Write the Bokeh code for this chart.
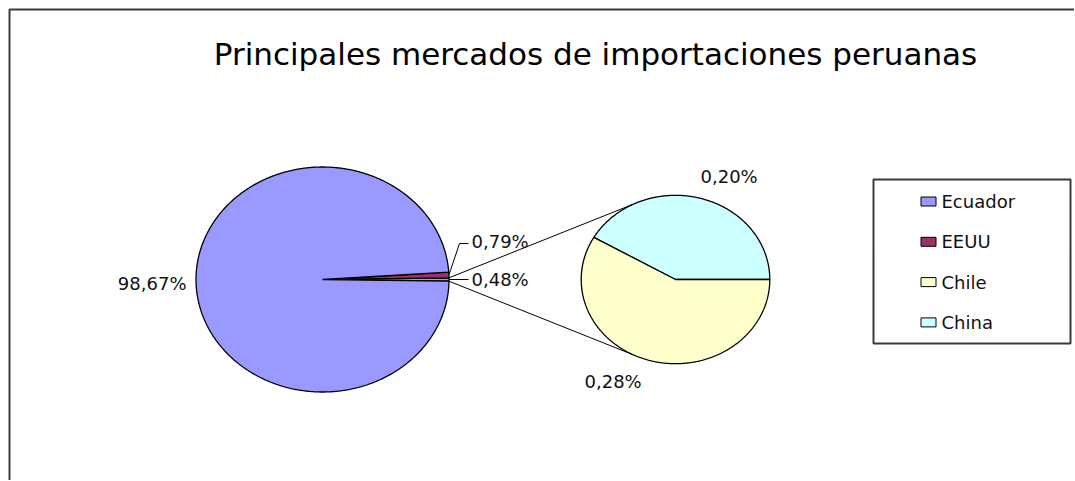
import numpy as np
from bokeh.plotting import figure
from bokeh.models import Range1d
from bokeh.core.properties import value
from bokeh.embed import file_html
from bokeh.resources import INLINE

# ---- data ----
title = "Principales mercados de importaciones peruanas"
categories = ["Ecuador", "EEUU", "Chile", "China"]
shares = [98.67, 0.79, 0.28, 0.20]
colors = ["#9999FF", "#993366", "#FFFFCC", "#CCFFFF"]
main_cats = ["Ecuador", "EEUU"]      # shown in the first pie
split_cats = ["Chile", "China"]      # grouped into "other" and shown in the second pie

W, H = 1074, 480
FONT = value("DejaVu Sans")

p = figure(width=W, height=H, output_backend="svg", toolbar_location=None,
           x_range=Range1d(0, W), y_range=Range1d(H, 0),
           min_border=0, outline_line_color=None)
p.axis.visible = False
p.grid.visible = False
p.background_fill_color = "white"
p.border_fill_color = "white"


def fmt(v):
    return f"{v:.2f}%".replace(".", ",")


def wedge_pts(cx, cy, rx, ry, a0, a1):
    n = max(4, int(abs(a1 - a0) * 2))
    t = np.radians(np.linspace(a0, a1, n))
    xs = np.concatenate([[cx], cx + rx * np.cos(t), [cx]])
    ys = np.concatenate([[cy], cy - ry * np.sin(t), [cy]])
    return list(xs), list(ys)


def pt(cx, cy, rx, ry, a):
    r = np.radians(a)
    return cx + rx * np.cos(r), cy - ry * np.sin(r)


val = dict(zip(categories, shares))
col = dict(zip(categories, colors))

# chart-area border (top and left visible, continues off the picture)
p.line(x=[9, 9, 1090], y=[495, 9, 9], line_color="#3a3a3a", line_width=2)

# title
p.text(x=[595], y=[53], text=[title], text_font=FONT, text_font_size="31px",
       text_align="center", text_baseline="middle", text_color="black")

# ---- main pie ----
mcx, mcy, mrx, mry = 322, 279, 126.5, 112.5
other = sum(val[c] for c in split_cats)
total = sum(val[c] for c in main_cats) + other
o_ang = 360 * other / total
e_ang = 360 * val["EEUU"] / total
xs_list, ys_list, fills = [], [], []
a0 = -o_ang / 2   # "other" slice centered on the horizontal
segs = [("other", a0, a0 + o_ang, "#9999FF"),
        ("EEUU", o_ang / 2, o_ang / 2 + e_ang, col["EEUU"]),
        ("Ecuador", o_ang / 2 + e_ang, 360 - o_ang / 2, col["Ecuador"])]
for name, s, e, c in segs:
    xs, ys = wedge_pts(mcx, mcy, mrx, mry, s, e)
    xs_list.append(xs); ys_list.append(ys); fills.append(c)
p.patches(xs=xs_list, ys=ys_list, fill_color=fills, line_color="black", line_width=1.3)

# ---- second pie ----
scx, scy, srx, sry = 675, 279, 94.3, 84.2
china_ang = 360 * val["China"] / other
xs_list, ys_list, fills = [], [], []
for s, e, c in [(0, china_ang, col["China"]), (china_ang, 360, col["Chile"])]:
    xs, ys = wedge_pts(scx, scy, srx, sry, s, e)
    xs_list.append(xs); ys_list.append(ys); fills.append(c)
p.patches(xs=xs_list, ys=ys_list, fill_color=fills, line_color="black", line_width=1.3)

# connector lines
u0 = pt(mcx, mcy, mrx, mry, o_ang / 2)
l0 = pt(mcx, mcy, mrx, mry, -o_ang / 2)
u1 = pt(scx, scy, srx, sry, 116.4)
l1 = pt(scx, scy, srx, sry, 243.6)
p.multi_line(xs=[[u0[0], u1[0]], [l0[0], l1[0]]], ys=[[u0[1], u1[1]], [l0[1], l1[1]]],
             line_color="black", line_width=1)

# leader lines for small labels
ee = pt(mcx, mcy, mrx, mry, o_ang / 2 + e_ang / 2)
ot = pt(mcx, mcy, mrx, mry, 0)
p.multi_line(xs=[[ee[0], 459, 468], [ot[0], 468]], ys=[[ee[1], 243, 243], [ot[1], ot[1]]],
             line_color="black", line_width=1)

# data labels
lab_x = [186, 471, 471, 584, 700]
lab_y = [283, 241, 279, 381, 176]
lab_t = [fmt(val["Ecuador"]), fmt(val["EEUU"]), fmt(other), fmt(val["Chile"]), fmt(val["China"])]
lab_a = ["right", "left", "left", "left", "left"]
p.text(x=lab_x, y=lab_y, text=lab_t, text_align=lab_a, text_baseline="middle",
       text_font=FONT, text_font_size="18px", text_color="#111111")

# ---- legend ----
p.quad(left=[873], right=[1070], top=[179], bottom=[343], fill_color="white",
       line_color="#3a3a3a", line_width=2)
ly = [201 + 40.3 * i for i in range(len(categories))]
p.rect(x=[928] * len(categories), y=ly, width=15, height=9, fill_color=colors,
       line_color="black", line_width=1)
p.text(x=[941] * len(categories), y=ly, text=categories, text_align="left",
       text_baseline="middle", text_font=FONT, text_font_size="18px", text_color="#111111")

open("out.html", "w").write(file_html(p, INLINE))
